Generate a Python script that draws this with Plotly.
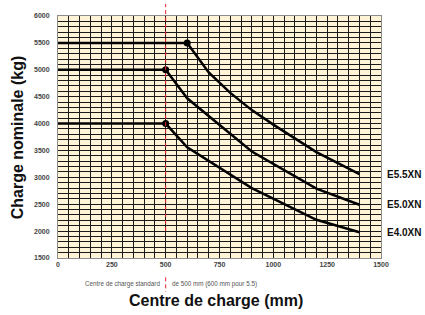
import plotly.graph_objects as go

# ---- data ----
X_TICKS = [0, 250, 500, 750, 1000, 1250, 1500]
Y_TICKS = [1500, 2000, 2500, 3000, 3500, 4000, 4500, 5000, 5500, 6000]

models = ["E5.5XN", "E5.0XN", "E4.0XN"]
e55_x = [0, 600, 700, 800, 900, 1000, 1200, 1400]
e55_y = [5500, 5500, 4950, 4570, 4250, 3980, 3470, 3060]
e50_x = [0, 500, 600, 700, 800, 900, 1200, 1400]
e50_y = [5000, 5000, 4470, 4140, 3810, 3480, 2790, 2490]
e40_x = [0, 500, 600, 900, 1200, 1400]
e40_y = [4000, 4000, 3560, 2800, 2210, 1980]
knee_x = [600, 500, 500]
knee_y = [5500, 5000, 4000]

STANDARD_CENTRE = 500
RED_LINE_LOW = 2000

series = [(models[0], e55_x, e55_y), (models[1], e50_x, e50_y), (models[2], e40_x, e40_y)]

BOLD = "Liberation Sans"
fig = go.Figure()

for name, xs, ys in series:
    fig.add_trace(go.Scatter(x=xs, y=ys, mode="lines", name=name,
                             line=dict(color="#000000", width=2.5),
                             showlegend=False, hoverinfo="skip"))
fig.add_trace(go.Scatter(x=knee_x, y=knee_y, mode="markers",
                         marker=dict(color="#000000", size=7),
                         showlegend=False, cliponaxis=False))

for name, xs, ys in series:
    fig.add_annotation(x=xs[-1], y=ys[-1], xref="x", yref="y", text=name,
                       showarrow=False, xanchor="left", yanchor="middle", xshift=26,
                       font=dict(family=BOLD, size=10, color="#111111", weight="bold"))

y_lo, y_hi = Y_TICKS[0], Y_TICKS[-1]
# red reference line (upper part, extends above the plot)
fig.add_shape(type="line", xref="x", yref="paper", x0=STANDARD_CENTRE, x1=STANDARD_CENTRE,
              y0=(RED_LINE_LOW - y_lo) / (y_hi - y_lo), y1=1.05,
              line=dict(color="#E8202A", width=1, dash="4px,3px"), layer="above")
# red line piece near the note
fig.add_shape(type="line", xref="x", yref="paper", x0=STANDARD_CENTRE, x1=STANDARD_CENTRE,
              y0=-0.08, y1=-0.14,
              line=dict(color="#E8202A", width=1, dash="4px,3px"), layer="above")

# note text
fig.add_annotation(x=0.3223, y=-0.108, xref="paper", yref="paper",
                   text="Centre de charge standard", showarrow=False,
                   xanchor="right", yanchor="middle",
                   font=dict(family="Liberation Sans", size=6.3, color="#555555"))
fig.add_annotation(x=0.347, y=-0.108, xref="paper", yref="paper",
                   text="de 500 mm (600 mm pour 5.5)", showarrow=False,
                   xanchor="left", yanchor="middle",
                   font=dict(family="Liberation Sans", size=6.3, color="#555555"))

# axis titles
fig.add_annotation(x=-0.126, y=0.5, xref="paper", yref="paper",
                   text="Charge nominale (kg)", showarrow=False, textangle=-90,
                   xanchor="center", yanchor="middle",
                   font=dict(family=BOLD, size=16, color="#111111", weight="bold"))
fig.add_annotation(x=0.49, y=-0.174, xref="paper", yref="paper",
                   text="Centre de charge (mm)", showarrow=False,
                   xanchor="center", yanchor="middle",
                   font=dict(family=BOLD, size=16, color="#111111", weight="bold"))

tickfont = dict(family=BOLD, size=7, color="#444444", weight="bold")
fig.update_xaxes(range=[X_TICKS[0], X_TICKS[-1]], tickvals=X_TICKS,
                 ticktext=[str(v) for v in X_TICKS], tickfont=tickfont,
                 showgrid=True, gridcolor="#1a1a1a", gridwidth=1,
                 minor=dict(dtick=50, showgrid=True, gridcolor="#1a1a1a", gridwidth=1),
                 showline=True, mirror=True, linecolor="#8c8c8c", linewidth=1,
                 zeroline=False, ticks="", fixedrange=True)
fig.update_yaxes(range=[y_lo, y_hi], tickvals=Y_TICKS,
                 ticktext=[str(v) for v in Y_TICKS], tickfont=tickfont,
                 showgrid=True, gridcolor="#1a1a1a", gridwidth=1,
                 minor=dict(dtick=100, showgrid=True, gridcolor="#1a1a1a", gridwidth=1),
                 showline=True, mirror=True, linecolor="#8c8c8c", linewidth=1,
                 zeroline=False, ticks="", ticklabelstandoff=6, fixedrange=True)

fig.update_layout(width=425, height=315,
                  margin=dict(l=58, r=44, t=14, b=57),
                  plot_bgcolor="#FFF3D8", paper_bgcolor="#FFFFFF",
                  showlegend=False)

fig.write_html("out.html", config={"displayModeBar": False},
               post_script="document.body.style.margin='0';")
